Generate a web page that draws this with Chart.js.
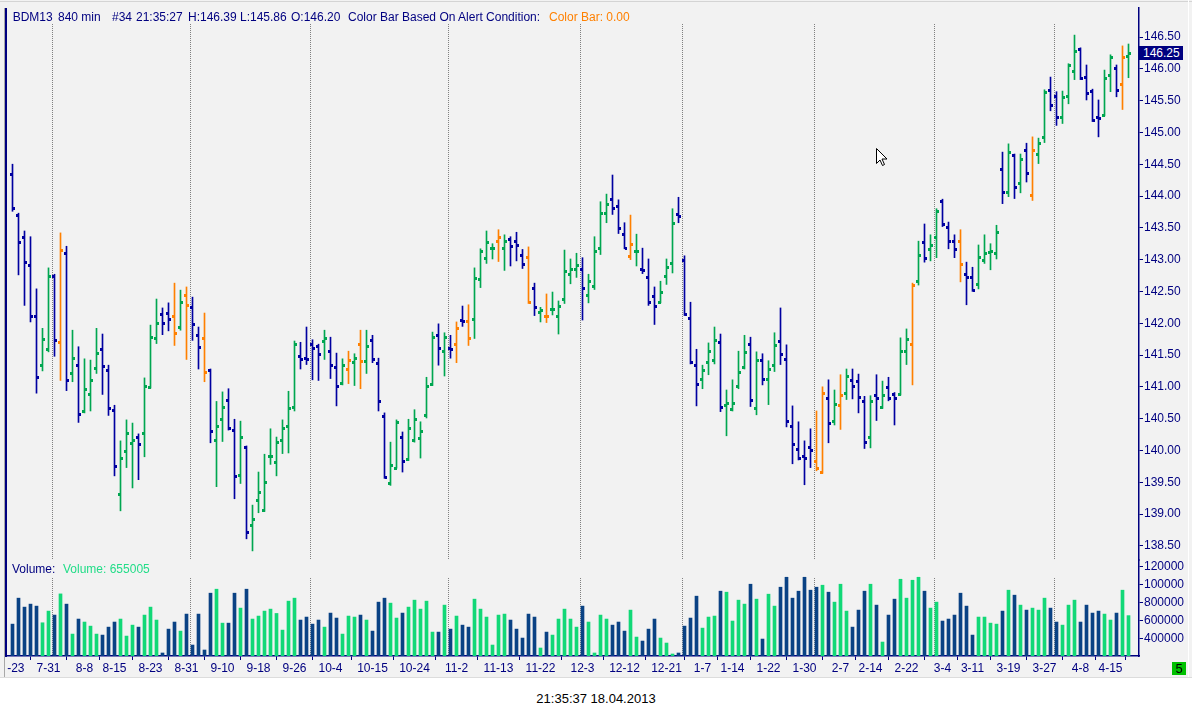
<!DOCTYPE html>
<html>
<head>
<meta charset="utf-8">
<title>BDM13 840 min</title>
<script src="https://cdn.jsdelivr.net/npm/chart.js@4.4.1/dist/chart.umd.min.js"></script>
<style>
    html, body { margin: 0; padding: 0; background: #fff; }
    body { width: 1192px; height: 717px; position: relative; overflow: hidden;
           font-family: "Liberation Sans", Arial, sans-serif; font-size: 12px; }
    #chart { position: absolute; left: 0; top: 0; }
    .txt { position: absolute; white-space: pre; line-height: 14px; color: #000080; }
    .orange { color: #ff8000; }
    .vgreen { color: #22dd88; }
    #lastBox { position: absolute; left: 1138px; width: 45px; height: 14px; line-height: 14px;
               background: #000080; color: #fff; padding-left: 5px; box-sizing: border-box; }
    #pageBox { position: absolute; left: 1172px; top: 662px; width: 14px; height: 13px; line-height: 13px;
               background: #00c000; color: #000; text-align: center; font-size: 13px; }
    #stamp { position: absolute; left: 0; top: 692px; width: 1192px; text-align: center;
             color: #000; font-size: 13px; line-height: 14px; }
</style>
</head>
<body>
<canvas id="chart" width="1192" height="678"></canvas>

<div class="txt" style="left:12.7px;top:10px">BDM13</div>
<div class="txt" style="left:58px;top:10px">840 min</div>
<div class="txt" style="left:112px;top:10px">#34</div>
<div class="txt" style="left:136px;top:10px">21:35:27</div>
<div class="txt" style="left:188px;top:10px">H:146.39</div>
<div class="txt" style="left:240px;top:10px">L:145.86</div>
<div class="txt" style="left:291px;top:10px">O:146.20</div>
<div class="txt" style="left:348px;top:10px">Color Bar Based On Alert Condition:</div>
<div class="txt orange" style="left:549px;top:10px">Color Bar: 0.00</div>

<div class="txt" style="left:12px;top:562px">Volume:</div>
<div class="txt vgreen" id="volText" style="left:63px;top:562px"></div>

<div id="lastBox"></div>
<div id="pageBox">5</div>
<div id="stamp">21:35:37 18.04.2013</div>

<script>
// BDM13, 840 min bars, oldest first
const opens = [
    144.34,143.70,143.35,142.91,142.11,141.34,141.59,142.75,141.70,143.10,
    141.21,141.34,140.62,140.88,141.29,141.59,141.26,140.63,139.31,139.99,
    140.11,140.21,140.28,140.99,141.76,142.14,142.16,142.12,141.94,142.45,
    142.25,141.81,141.76,141.26,140.16,140.50,140.80,140.32,139.62,140.06,
    138.82,139.22,139.07,139.91,139.81,140.17,140.39,140.68,141.48,141.45,
    141.67,141.64,141.72,141.56,141.31,141.06,141.28,141.39,141.67,141.40,
    141.73,141.37,140.54,139.48,139.73,140.21,139.86,140.17,140.19,140.55,
    141.04,141.81,141.56,141.61,141.67,142.05,142.03,142.06,142.69,143.02,
    143.18,143.30,143.18,143.32,143.30,143.08,143.04,142.55,142.17,142.12,
    142.22,142.11,142.38,142.78,142.86,142.86,142.45,142.58,143.19,143.74,
    143.96,143.84,143.40,143.05,143.13,142.86,142.72,142.42,142.34,142.75,
    142.94,143.71,143.00,142.08,141.34,141.12,141.39,141.42,141.70,140.72,
    140.65,141.02,141.31,141.67,140.66,141.42,141.12,141.34,141.72,141.43,
    140.38,140.03,139.92,140.05,139.84,139.66,140.82,140.46,140.71,140.90,
    141.10,141.09,140.77,140.21,140.87,140.68,140.99,140.88,140.88,141.56,
    141.68,142.67,143.27,143.16,143.35,143.92,143.52,143.30,143.29,142.78,
    142.72,142.61,143.00,143.12,143.11,144.42,144.06,144.64,144.20,144.72,
    144.01,144.66,144.92,145.66,145.58,145.25,145.58,145.96,146.31,145.87,
    145.65,145.24,145.28,145.90,146.01,145.76,146.20
];
const highs = [
    144.50,143.73,143.45,143.36,142.54,141.92,142.87,142.77,143.42,143.21,
    141.89,141.63,141.44,141.42,141.92,141.83,141.34,140.71,140.15,140.48,
    140.43,140.26,141.14,141.97,142.38,142.24,142.32,142.63,142.52,142.57,
    142.41,141.94,142.16,141.28,140.77,140.92,140.97,140.49,140.46,140.07,
    139.14,139.66,139.94,140.34,140.21,140.48,140.93,141.72,141.70,141.94,
    141.74,141.67,141.89,141.78,141.53,141.44,141.56,141.52,141.89,141.89,
    141.81,141.45,140.59,140.13,140.48,140.29,140.49,140.64,140.45,141.15,
    141.86,141.99,141.85,141.81,142.02,142.27,142.29,142.87,143.17,143.45,
    143.25,143.47,143.39,143.36,143.43,143.16,143.20,142.63,142.25,142.46,
    142.49,142.35,143.15,143.01,143.10,143.03,142.77,143.36,143.91,144.03,
    144.33,143.94,143.58,143.70,143.40,143.18,143.01,142.57,142.66,143.01,
    143.80,143.98,143.06,142.33,141.59,141.34,141.69,141.94,141.83,140.95,
    141.11,141.56,141.81,141.78,141.55,141.52,141.41,141.85,142.24,141.66,
    140.70,140.45,140.15,140.34,140.62,141.00,141.11,140.95,141.19,141.28,
    141.28,141.20,140.85,140.86,141.19,141.09,141.15,140.91,141.77,141.91,
    142.63,143.29,143.56,143.39,143.80,143.95,143.59,143.39,143.47,142.96,
    142.88,143.23,143.39,143.25,143.54,144.69,144.82,144.66,144.66,144.83,
    144.93,144.91,145.67,145.87,145.64,145.65,146.08,146.53,146.33,146.06,
    145.68,145.51,145.98,146.22,146.06,146.36,146.39
];
const lows = [
    143.76,142.76,142.28,142.02,140.90,141.25,141.55,141.48,141.10,140.94,
    141.08,140.44,140.59,140.62,141.21,140.88,140.55,139.60,139.05,139.73,
    139.41,139.54,139.90,140.98,141.68,141.82,141.88,141.65,141.89,141.43,
    141.73,141.28,141.08,140.12,139.43,140.14,140.32,139.24,139.48,138.61,
    138.42,139.02,139.04,139.78,139.60,139.95,139.96,140.62,141.28,141.35,
    141.11,141.10,141.43,141.13,140.70,141.03,141.05,141.02,140.97,141.21,
    141.38,140.62,139.56,139.45,139.72,139.66,139.84,140.13,139.88,140.51,
    141.02,141.34,141.17,141.45,141.38,141.95,141.65,141.76,142.56,142.94,
    143.01,142.97,142.83,142.90,142.98,142.86,142.31,142.12,142.02,142.01,
    142.13,141.83,142.31,142.62,142.72,142.05,142.32,142.53,143.08,143.58,
    143.71,143.41,143.17,143.00,142.90,142.78,142.28,141.98,142.32,142.61,
    142.79,143.58,142.12,141.36,140.70,140.97,141.19,141.36,140.61,140.23,
    140.62,140.97,141.28,140.69,140.56,141.03,140.72,141.24,141.35,140.37,
    139.79,139.85,139.46,139.73,139.68,139.64,140.12,140.40,140.33,140.80,
    140.81,140.59,140.03,140.04,140.47,140.66,140.78,140.40,140.87,141.35,
    141.03,142.60,142.96,142.98,143.03,143.52,143.17,143.03,142.65,142.29,
    142.50,142.54,142.94,142.84,143.01,143.88,143.99,143.96,144.05,144.22,
    143.93,144.51,144.84,145.34,145.11,145.14,145.45,145.83,145.83,145.51,
    145.17,144.93,145.26,145.64,145.56,145.36,145.86
];
const closes = [
    143.81,143.27,142.97,142.12,141.15,141.75,142.75,141.73,143.15,141.10,
    141.45,140.58,140.96,141.10,141.53,141.32,140.66,139.75,139.88,140.27,
    140.16,140.10,141.02,141.78,142.00,142.01,142.06,141.84,142.34,142.28,
    141.98,141.62,141.24,140.30,140.39,140.68,140.36,139.59,140.21,138.71,
    138.92,139.34,139.51,139.92,140.14,140.36,140.66,141.68,141.43,141.43,
    141.61,141.52,141.76,141.34,141.01,141.34,141.42,141.46,141.40,141.64,
    141.43,140.77,139.58,139.77,140.44,139.84,140.36,140.49,140.30,141.02,
    141.78,141.61,141.78,141.59,141.92,142.04,141.76,142.71,143.13,143.27,
    143.19,143.35,143.30,143.21,143.23,142.93,142.33,142.25,142.20,142.11,
    142.23,142.27,142.82,142.86,142.91,142.55,142.67,143.13,143.73,143.87,
    143.81,143.49,143.19,143.24,143.14,142.83,142.34,142.27,142.49,142.88,
    143.57,143.68,142.14,141.39,141.04,141.26,141.56,141.73,140.69,140.74,
    140.74,141.23,141.54,140.79,141.42,141.12,141.28,141.65,141.51,140.47,
    140.10,139.88,139.88,140.00,139.72,140.90,140.43,140.73,140.87,141.17,
    141.02,140.84,140.14,140.77,140.82,140.87,140.82,140.82,141.56,141.75,
    142.60,143.07,143.02,143.23,143.76,143.56,143.30,143.16,142.93,142.72,
    142.52,143.04,143.10,143.13,143.43,144.06,144.69,144.14,144.58,144.36,
    144.72,144.84,145.63,145.43,145.24,145.55,146.06,146.28,145.85,145.62,
    145.19,145.22,145.85,146.18,145.66,146.18,146.25
];
const volumes = [
    561000,848000,749000,782000,760000,576000,705000,661000,895000,782000,
    451000,617000,584000,539000,451000,440000,528000,584000,617000,429000,
    550000,528000,661000,749000,606000,242000,506000,584000,484000,672000,
    330000,672000,275000,903000,947000,572000,572000,903000,738000,947000,
    617000,650000,705000,727000,679000,495000,815000,848000,606000,639000,
    561000,606000,528000,683000,628000,451000,650000,639000,661000,606000,
    484000,804000,848000,793000,628000,683000,749000,826000,727000,815000,
    473000,473000,771000,506000,650000,550000,528000,837000,727000,639000,
    330000,661000,672000,606000,506000,407000,672000,639000,297000,473000,
    440000,617000,727000,617000,528000,760000,584000,242000,661000,617000,
    550000,584000,484000,716000,418000,374000,506000,617000,407000,352000,
    231000,242000,539000,628000,870000,517000,639000,650000,925000,914000,
    595000,826000,782000,1002000,837000,396000,892000,760000,969000,1079000,
    848000,925000,1079000,936000,969000,991000,914000,804000,1002000,705000,
    528000,716000,925000,1002000,771000,363000,661000,837000,1057000,848000,
    1046000,1079000,925000,738000,804000,595000,617000,661000,903000,760000,
    440000,639000,639000,572000,561000,705000,936000,881000,771000,716000,
    738000,716000,848000,738000,584000,550000,771000,826000,584000,771000,
    683000,705000,672000,606000,683000,936000,655005
];
// bars where the alert condition fired (drawn orange)
const alertBars = [8, 27, 29, 32, 56, 58, 74, 76, 81, 86, 89, 103, 134, 135, 138, 150, 158, 170, 185];
// first bar of each month (dotted separators)
const monthStarts = [7, 30, 50, 73, 95, 112, 134, 154, 174];

const xTickIdx = [0, 6, 12, 17, 23, 29, 35, 41, 47, 53, 60, 67, 74, 81, 88, 95, 102, 109,
                  115, 120, 126, 132, 138, 143, 149, 155, 160, 166, 172, 178, 183];
const xTickText = ['7-23', '7-31', '8-8', '8-15', '8-23', '8-31', '9-10', '9-18', '9-26', '10-4',
                   '10-15', '10-24', '11-2', '11-13', '11-22', '12-3', '12-12', '12-21', '1-7',
                   '1-14', '1-22', '1-30', '2-7', '2-14', '2-22', '3-4', '3-11', '3-19', '3-27',
                   '4-8', '4-15'];
const priceTicks = [138.5, 139, 139.5, 140, 140.5, 141, 141.5, 142, 142.5,
                    143, 143.5, 144, 144.5, 145, 145.5, 146, 146.5];
const volTickVals = [400000, 600000, 800000, 1000000, 1200000];
const volTickText = ['400000', '600000', '800000', '100000', '120000'];

const NAVY = '#000080';
const BAR_BLUE = '#0000a0';
const BAR_GREEN = '#00a650';
const BAR_ORANGE = '#ff8000';
const VOL_BLUE = '#0a4284';
const VOL_GREEN = '#12d877';

function barColor(i) {
    if (alertBars.includes(i)) return BAR_ORANGE;
    return closes[i] >= opens[i] ? BAR_GREEN : BAR_BLUE;
}

function volColor(i) {
    return closes[i] >= opens[i] ? VOL_GREEN : VOL_BLUE;
}

Chart.defaults.font.family = '"Liberation Sans", Arial, sans-serif';
Chart.defaults.font.size = 12;

const ranges = highs.map((h, i) => ({ x: i, y: [lows[i], h] }));
const vols = volumes.map((v, i) => ({ x: i, y: v }));

// frame, background and month separators
const framePlugin = {
    id: 'frame',
    beforeDraw(chart) {
        const ctx = chart.ctx;
        ctx.save();
        ctx.fillStyle = '#f2f2f2';
        ctx.fillRect(0, 0, chart.width, chart.height);
        ctx.fillStyle = '#d4d4d4';
        ctx.fillRect(0, 1, chart.width, 1);
        ctx.restore();
    },
    beforeDatasetsDraw(chart) {
        const ctx = chart.ctx, xs = chart.scales.x, ys = chart.scales.y, yv = chart.scales.yv;
        ctx.save();
        ctx.strokeStyle = '#808080';
        ctx.lineWidth = 1;
        ctx.setLineDash([1, 1]);
        monthStarts.forEach(m => {
            const x = Math.floor(xs.getPixelForValue(m) - 2) + 0.5;
            ctx.beginPath();
            ctx.moveTo(x, 24);
            ctx.lineTo(x, ys.bottom);
            ctx.moveTo(x, yv.top + 18);
            ctx.lineTo(x, yv.bottom);
            ctx.stroke();
        });
        ctx.restore();
    },
    afterDraw(chart) {
        const ctx = chart.ctx;
        ctx.save();
        // left edge clips the first date label
        ctx.fillStyle = '#f2f2f2';
        ctx.fillRect(0, chart.chartArea.bottom + 1, 7, chart.height);
        ctx.fillStyle = '#a8a8a8';
        ctx.fillRect(4, 8, 1, chart.height - 8);
        ctx.fillStyle = NAVY;
        ctx.fillRect(5, 8, 2, chart.chartArea.bottom - 7);
        ctx.fillStyle = '#ffffff';
        ctx.fillRect(1188, 0, 1, chart.height);
        ctx.fillStyle = '#dcdcdc';
        ctx.fillRect(0, chart.height - 1, chart.width, 1);

        // mouse pointer left on the chart
        ctx.translate(876.5, 148.5);
        ctx.beginPath();
        ctx.moveTo(0, 0);
        ctx.lineTo(0, 15);
        ctx.lineTo(3.5, 11.5);
        ctx.lineTo(6, 17);
        ctx.lineTo(8, 16);
        ctx.lineTo(5.5, 10.5);
        ctx.lineTo(10.5, 10.5);
        ctx.closePath();
        ctx.fillStyle = '#ffffff';
        ctx.fill();
        ctx.strokeStyle = '#000000';
        ctx.lineWidth = 1;
        ctx.stroke();
        ctx.restore();
    }
};

// open (left) and close (right) ticks of every bar
const ohlcTicks = {
    id: 'ohlcTicks',
    afterDatasetsDraw(chart) {
        const ctx = chart.ctx, xs = chart.scales.x, ys = chart.scales.y;
        ctx.save();
        for (let i = 0; i < closes.length; i++) {
            const x = Math.floor(xs.getPixelForValue(i));
            const yo = Math.round(ys.getPixelForValue(opens[i])) - 1;
            const yc = Math.round(ys.getPixelForValue(closes[i])) - 1;
            ctx.fillStyle = barColor(i);
            ctx.fillRect(x - 2, yo, 3, 3);
            ctx.fillRect(x + 1, yc, 2, 3);
        }
        ctx.restore();
    }
};

const ctx = document.getElementById('chart').getContext('2d');
const chart = new Chart(ctx, {
    type: 'bar',
    data: {
        datasets: [{
            label: 'BDM13',
            data: ranges,
            yAxisID: 'y',
            backgroundColor: c => barColor(c.dataIndex),
            barThickness: 1,
            grouped: false,
            borderWidth: 0
        }, {
            label: 'Volume',
            data: vols,
            yAxisID: 'yv',
            backgroundColor: c => volColor(c.dataIndex),
            barThickness: 3,
            grouped: false,
            borderWidth: 0
        }]
    },
    options: {
        responsive: false,
        animation: false,
        events: [],
        layout: { padding: { left: 7, top: 8, right: 0, bottom: 0 } },
        plugins: { legend: { display: false }, tooltip: { enabled: false } },
        scales: {
            x: {
                type: 'linear',
                bounds: 'data',
                min: -0.9167,
                max: 187.75,
                offset: false,
                afterBuildTicks: s => { s.ticks = xTickIdx.map(v => ({ value: v })); },
                afterFit: s => { s.height = 22; s.paddingLeft = 0; s.paddingRight = 0; },
                ticks: {
                    autoSkip: false,
                    maxRotation: 0,
                    padding: 1,
                    color: NAVY,
                    callback: v => {
                        const i = xTickIdx.indexOf(v);
                        return i >= 0 ? xTickText[i] : '';
                    }
                },
                grid: { display: true, drawOnChartArea: false, drawTicks: true, tickLength: 4, color: NAVY },
                border: { display: true, color: NAVY, width: 1.5 }
            },
            y: {
                type: 'linear',
                position: 'right',
                stack: 'panes',
                stackWeight: 552,
                bounds: 'data',
                min: 138.277,
                max: 146.956,
                afterBuildTicks: s => { s.ticks = priceTicks.map(v => ({ value: v })); },
                afterFit: s => { s.width = 53; s.paddingTop = 0; s.paddingBottom = 0; },
                ticks: { autoSkip: false, padding: 1, color: NAVY, callback: v => v.toFixed(2) },
                grid: { display: true, drawOnChartArea: false, drawTicks: true, tickLength: 4, color: NAVY },
                border: { display: true, color: NAVY, width: 1.5 }
            },
            yv: {
                type: 'linear',
                position: 'right',
                stack: 'panes',
                stackWeight: 96,
                bounds: 'data',
                min: 208840,
                max: 1269613,
                afterBuildTicks: s => { s.ticks = volTickVals.map(v => ({ value: v })); },
                afterFit: s => { s.width = 53; s.paddingTop = 0; s.paddingBottom = 0; },
                ticks: {
                    autoSkip: false,
                    padding: 1,
                    color: NAVY,
                    callback: v => {
                        const i = volTickVals.indexOf(v);
                        return i >= 0 ? volTickText[i] : '';
                    }
                },
                grid: { display: true, drawOnChartArea: false, drawTicks: true, tickLength: 4, color: NAVY },
                border: { display: true, color: NAVY, width: 1.5 }
            }
        }
    },
    plugins: [framePlugin, ohlcTicks]
});

// last price marker on the price axis and the volume readout
const last = closes.length - 1;
const lastBox = document.getElementById('lastBox');
lastBox.textContent = closes[last].toFixed(2);
lastBox.style.top = (chart.scales.y.getPixelForValue(closes[last]) - 7) + 'px';
document.getElementById('volText').textContent = 'Volume: ' + volumes[last];
</script>
</body>
</html>
